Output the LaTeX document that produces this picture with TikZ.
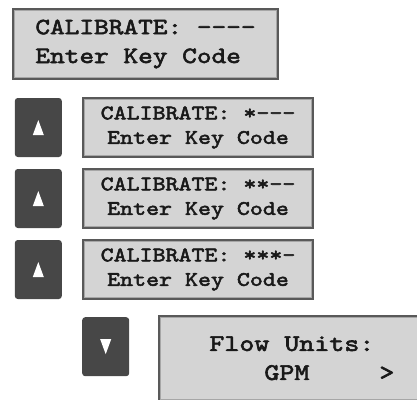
\documentclass[tikz,border=0pt]{standalone}
\usepackage{fontspec}
\newfontfamily\lcdfont{lmmono10-regular.otf}[FakeStretch=1.2, FakeBold=2.5]
\usetikzlibrary{positioning}

\begin{document}
\begin{tikzpicture}[
    display/.style={rectangle, draw=black!65, line width=1.6pt, fill=black!17, inner sep=0pt, text=black!90},
    bigdisplay/.style={display, minimum width=265.4pt, minimum height=70.4pt, align=left, font=\lcdfont\fontsize{23.3}{28.8}\selectfont\frenchspacing},
    smalldisplay/.style={display, minimum width=230.4pt, minimum height=59.4pt, align=center, font=\lcdfont\fontsize{20.6}{24.5}\selectfont\frenchspacing},
    keypad/.style={rectangle, fill=black!72, rounded corners=3pt, minimum width=47pt, minimum height=59pt, inner sep=0pt},
]

    \clip (0,0) rectangle (417pt,-399pt);

    % Displays
    \node[bigdisplay, anchor=north west] (start) at (12pt,-8pt) {CALIBRATE: ----\\Enter Key Code};
    \node[smalldisplay, below right=17pt and 70pt of start.south west] (code1) {CALIBRATE: *---\\Enter Key Code};
    \node[smalldisplay, below=10pt of code1] (code2) {CALIBRATE: **--\\Enter Key Code};
    \node[smalldisplay, below=10pt of code2] (code3) {CALIBRATE: ***-\\Enter Key Code};

    % Keys
    \node[keypad, left=20pt of code1] (up1) {};
    \node[keypad, left=20pt of code2] (up2) {};
    \node[keypad, left=20pt of code3] (up3) {};
    \node[keypad, below right=17pt and 0pt of code3.south west] (down) {};

    % Next menu
    \node[display, minimum width=285.4pt, minimum height=85pt, align=left, font=\lcdfont\fontsize{23.8}{29}\selectfont\frenchspacing,
          right=29pt of down.north east, anchor=north west, yshift=2pt] (flow)
          {Flow Units:\\\hspace*{55pt}GPM\hspace*{70pt}>};

    % Arrow marks on keys
    \foreach \key in {up1, up2, up3}
        \fill[white] ([yshift=7.5pt]\key.center) -- ++(-5.5pt,-15pt) -- ++(11pt,0pt) -- cycle;
    \fill[white] ([yshift=-7.5pt]down.center) -- ++(-5.5pt,15pt) -- ++(11pt,0pt) -- cycle;

    % Inner bevel of the displays
    \foreach \disp in {start, code1, code2, code3, flow}
        \draw[black!35, line width=1pt] ([shift={(2.2pt,-2.2pt)}]\disp.north west) rectangle ([shift={(-2.2pt,2.2pt)}]\disp.south east);

\end{tikzpicture}
\end{document}
